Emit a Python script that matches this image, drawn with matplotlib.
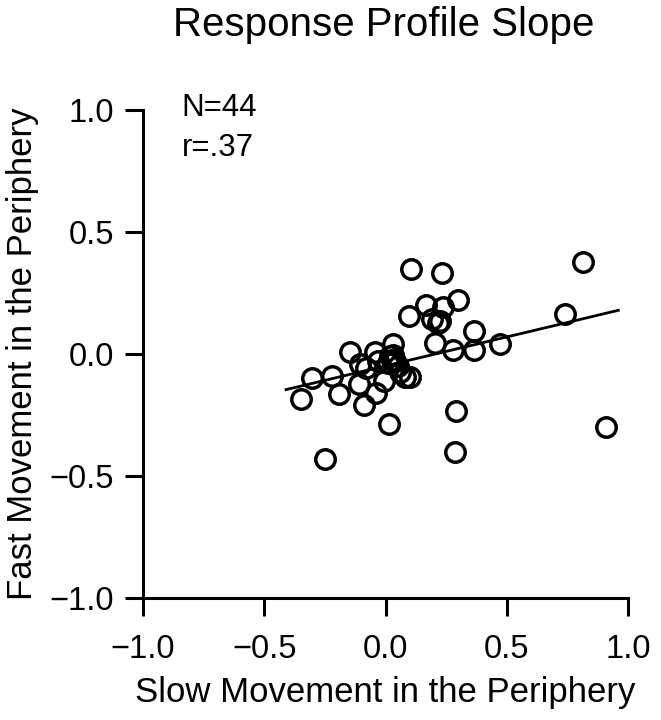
import numpy as np
import matplotlib
matplotlib.use('Agg')
import matplotlib.pyplot as plt

plt.rcParams['font.family'] = ['Liberation Sans', 'DejaVu Sans']

# slope of response profile, slow vs fast movement (periphery)
slow = [0.105, 0.235, 0.815, 0.300, 0.165, 0.236, 0.097, 0.190, 0.215, 0.225,
        0.740, 0.367, 0.205, 0.472, 0.280, 0.365, -0.148, -0.045, 0.030, 0.020,
        0.025, 0.040, 0.010, 0.050, 0.080, 0.103, -0.302, -0.220, -0.350, -0.190,
        -0.110, -0.088, -0.040, 0.015, -0.005, 0.290, 0.285, 0.910, -0.250, -0.105,
        -0.080, 0.060, -0.030, 0.030]
fast = [0.348, 0.330, 0.375, 0.220, 0.200, 0.192, 0.155, 0.145, 0.128, 0.135,
        0.163, 0.095, 0.045, 0.042, 0.015, 0.015, 0.010, 0.008, 0.040, -0.010,
        -0.025, -0.030, -0.035, -0.050, -0.095, -0.095, -0.098, -0.090, -0.185, -0.165,
        -0.125, -0.210, -0.160, -0.285, -0.110, -0.232, -0.400, -0.300, -0.430, -0.040,
        -0.057, -0.075, -0.030, -0.005]

# regression line ends
fit_x = [-0.41, 0.96]
fit_y = [-0.146, 0.179]

ticks = [-1.0, -0.5, 0.0, 0.5, 1.0]
tick_labels = ['\u22121.0', '\u22120.5', '0.0', '0.5', '1.0']

fig = plt.figure(figsize=(6.61, 7.2), dpi=100)
ax = fig.add_axes([143/661, 122/720, 485/661, 488/720])

ax.plot(slow, fast, 'o', mfc='none', mec='black', ms=14, mew=2.5, zorder=3)
ax.plot(fit_x, fit_y, '-', color='black', lw=2, zorder=2)

ax.set_xlim(-1, 1)
ax.set_ylim(-1, 1)
ax.set_xticks(ticks)
ax.set_yticks(ticks)
ax.set_xticklabels(tick_labels)
ax.set_yticklabels(tick_labels)
for s in ['top', 'right']:
    ax.spines[s].set_visible(False)
for s in ['left', 'bottom']:
    ax.spines[s].set_linewidth(2.2)
ax.tick_params(direction='out', length=13, width=2.2, labelsize=23.5)
ax.tick_params(axis='x', pad=13)
ax.tick_params(axis='y', pad=8)

ax.set_xlabel('Slow Movement in the Periphery', fontsize=25)
ax.set_ylabel('Fast Movement in the Periphery', fontsize=25)
ax.xaxis.set_label_coords(0.5, -0.160)
ax.yaxis.set_label_coords(-0.215, 0.5)

fig.text(384/661, 1 - 36/720, 'Response Profile Slope', fontsize=29,
         ha='center', va='baseline')
ax.text(0.080, 0.988, 'N=44', transform=ax.transAxes, fontsize=22.5, va='baseline')
ax.text(0.080, 0.906, 'r=.37', transform=ax.transAxes, fontsize=22.5, va='baseline')

fig.savefig('out.png', dpi=100)
